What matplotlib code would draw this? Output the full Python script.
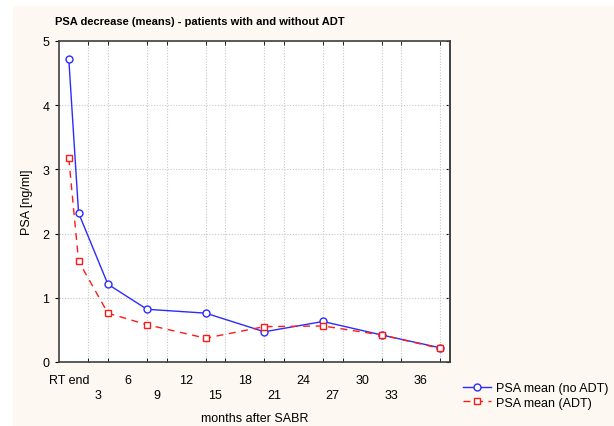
import matplotlib.pyplot as plt
import numpy as np

plt.rcParams['font.family'] = ['Liberation Sans', 'DejaVu Sans']

months = [0, 1, 4, 8, 14, 20, 26, 32, 38]
psa_no_adt = [4.72, 2.32, 1.21, 0.82, 0.76, 0.47, 0.63, 0.42, 0.22]
psa_adt = [3.17, 1.57, 0.76, 0.58, 0.37, 0.55, 0.56, 0.42, 0.21]
tick_pos = list(range(0, 37, 3))
tick_labels = ['RT end', '3', '6', '9', '12', '15', '18', '21', '24', '27', '30', '33', '36']

bg = '#fdf9f2'
fig = plt.figure(figsize=(6.14, 4.27), dpi=100, facecolor='white')
# cream panel with a thin white margin left/top, like the reference
fig.patches.append(plt.Rectangle((13 / 614, 0), 1, 1 - 7 / 427, transform=fig.transFigure,
                                 facecolor=bg, edgecolor='none', zorder=-10))
ax = fig.add_axes([0.0961, 0.150, 0.637, 0.752])
ax.set_facecolor('white')

ax.plot(months, psa_no_adt, color='#2b2bff', lw=1, marker='o', ms=5,
        mfc='white', mec='#2b2bff', mew=1, label='PSA mean (no ADT)', zorder=3)
ax.plot(months, psa_adt, color='#ff1a1a', lw=1, ls=(0, (5, 4)), marker='s', ms=5,
        mfc='white', mec='#ff1a1a', mew=1, label='PSA mean (ADT)', zorder=3)

ax.set_xlim(-1, 39)
ax.set_ylim(0, 5)

# labels every 3 months, staggered on two rows
labs = [l if i % 2 == 0 else '\n' + l for i, l in enumerate(tick_labels)]
ax.set_xticks(tick_pos)
ax.set_xticklabels(labs, fontsize=9, linespacing=1.25)
ax.tick_params(axis='x', which='major', length=0, pad=9)
ax.set_xticks(np.arange(0, 39, 2), minor=True)
ax.set_yticks(range(0, 6))
ax.tick_params(axis='y', labelsize=9, length=3, direction='out', pad=4)
ax.tick_params(axis='x', which='minor', length=3, direction='in', top=True, bottom=True)
ax2 = ax.secondary_yaxis('right')
ax2.set_yticks(range(0, 6))
ax2.tick_params(length=3, direction='in', labelright=False)

ax.grid(False)
ax.grid(True, which='minor', axis='x', color='#c8c8c8', ls=(0, (1, 1.5)), lw=0.8)
ax.grid(True, which='major', axis='y', color='#c8c8c8', ls=(0, (1, 1.5)), lw=0.8)

for s in list(ax.spines.values()) + list(ax2.spines.values()):
    s.set_color('#404040')
    s.set_linewidth(1.2)

ax.set_xlabel('months after SABR', fontsize=9, labelpad=8)
ax.set_ylabel('PSA [ng/ml]', fontsize=9, labelpad=7)
fig.text(55 / 614, 1 - 22 / 427, 'PSA decrease (means) - patients with and without ADT',
         fontsize=8, fontweight='bold', va='center', ha='left')

fig.legend(loc='upper left', bbox_to_anchor=(452 / 614, 1 - 372 / 427), frameon=False,
           fontsize=9, handlelength=2.2, handletextpad=0.4, labelspacing=0.2)

fig.savefig('out.png', dpi=100)
